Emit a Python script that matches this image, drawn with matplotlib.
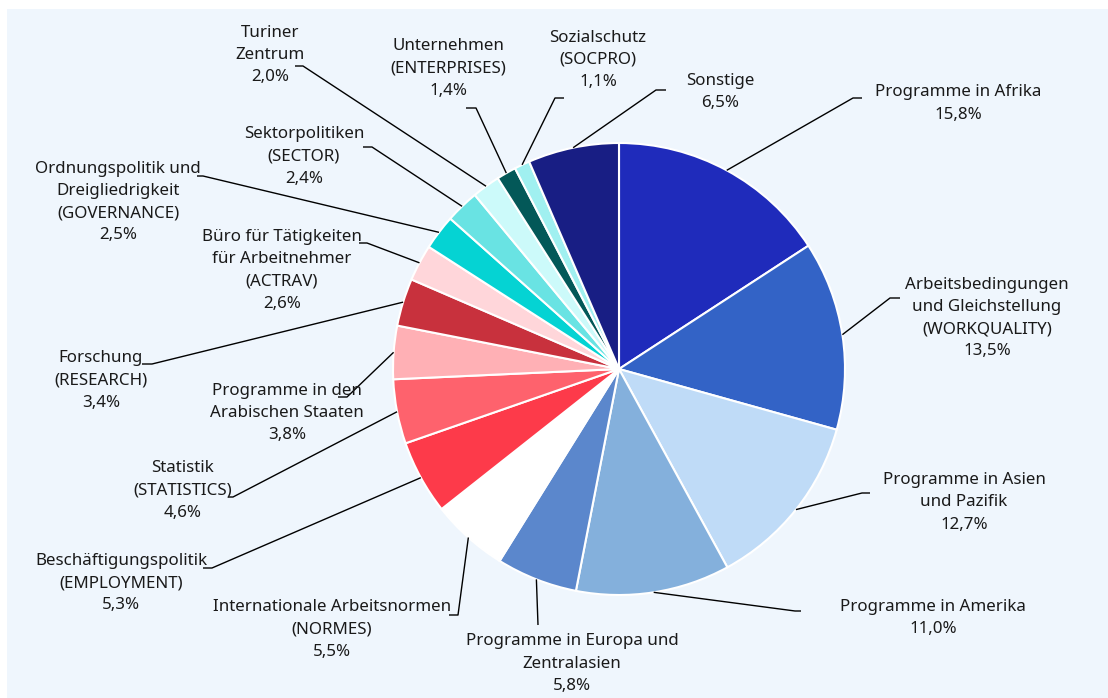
import numpy as np
import matplotlib.pyplot as plt
from matplotlib.patches import Rectangle

plt.rcParams['font.family'] = ['Noto Sans', 'DejaVu Sans']

W, H = 1108, 698

labels = ['Programme in Afrika',
          'Arbeitsbedingungen\nund Gleichstellung\n(WORKQUALITY)',
          'Programme in Asien\nund Pazifik',
          'Programme in Amerika',
          'Programme in Europa und\nZentralasien',
          'Internationale Arbeitsnormen\n(NORMES)',
          'Beschäftigungspolitik\n(EMPLOYMENT)',
          'Statistik\n(STATISTICS)',
          'Programme in den\nArabischen Staaten',
          'Forschung\n(RESEARCH)',
          'Büro für Tätigkeiten\nfür Arbeitnehmer\n(ACTRAV)',
          'Ordnungspolitik und\nDreigliedrigkeit\n(GOVERNANCE)',
          'Sektorpolitiken\n(SECTOR)',
          'Turiner\nZentrum',
          'Unternehmen\n(ENTERPRISES)',
          'Sozialschutz\n(SOCPRO)',
          'Sonstige']
values = [15.8, 13.5, 12.7, 11.0, 5.8, 5.5, 5.3, 4.6, 3.8, 3.4, 2.6, 2.5,
          2.4, 2.0, 1.4, 1.1, 6.5]
colours = ['#1f2bbb', '#3363c6', '#bfdbf7', '#84b0dc', '#5b87cc', '#ffffff',
           '#fd3a4a', '#fe626d', '#ffb0b5', '#c8313d', '#ffd6da', '#05d3d3',
           '#69e3e3', '#ccfafa', '#035858', '#a0f0f0', '#181e84']

# layout in pixels (top-left origin): text centre, elbow, end of tick
layout = [
    ((958, 103.5), (853, 98), (862, 98)),
    ((987, 318), (890, 298), (900, 298)),
    ((964, 502.5), (862, 493), (870, 493)),
    ((933, 618), (795, 611), (801, 611)),
    ((572, 663.5), (538, 625), (538, 625)),
    ((332, 629.5), (458, 615), (449, 615)),
    ((121, 583), (212, 568), (203, 568)),
    ((183, 490.5), (233, 497), (228, 497)),
    ((287, 413), (347, 397), (338, 397)),
    ((101, 380.5), (152, 364), (142, 364)),
    ((282, 270.5), (367, 243), (359, 243)),
    ((118, 202), (203, 176), (197, 176)),
    ((304, 156.5), (372, 147), (363, 147)),
    ((270, 55), (303, 66), (295, 66)),
    ((448, 68.5), (476, 108), (466, 108)),
    ((598, 60), (555, 98), (564, 98)),
    ((720, 92), (656, 90), (666, 90)),
]

def Y(py):
    return H - py

cx, cy, R = 619, Y(369), 226

fig = plt.figure(figsize=(W/100, H/100), dpi=100)
fig.patch.set_facecolor('white')
ax = fig.add_axes([0, 0, 1, 1])

ax.add_patch(Rectangle((7, 0), W - 7, H - 9, facecolor='#eff6fd',
                       edgecolor='none', zorder=0))

wedges, _ = ax.pie(values, colors=colours, startangle=90, counterclock=False,
                   center=(cx, cy), radius=R, frame=True,
                   wedgeprops=dict(edgecolor='white', linewidth=1.5))
ax.set_xlim(0, W)
ax.set_ylim(0, H)
ax.set_aspect('equal')
ax.axis('off')

for w, lbl, v, (tp, ep, kp) in zip(wedges, labels, values, layout):
    th = np.deg2rad((w.theta1 + w.theta2) / 2)
    x0 = cx + R * np.cos(th)
    y0 = cy + R * np.sin(th)
    ax.plot([x0, ep[0], kp[0]], [y0, Y(ep[1]), Y(kp[1])],
            color='black', lw=1.0, solid_capstyle='butt', zorder=3)
    txt = lbl + '\n' + ('%.1f' % v).replace('.', ',') + '%'
    ax.text(tp[0], Y(tp[1]), txt, ha='center', va='center',
            multialignment='center', fontsize=12.2, color='#1a1a1a',
            linespacing=1.52, zorder=4)

fig.savefig('out.png', dpi=100, facecolor='white')
